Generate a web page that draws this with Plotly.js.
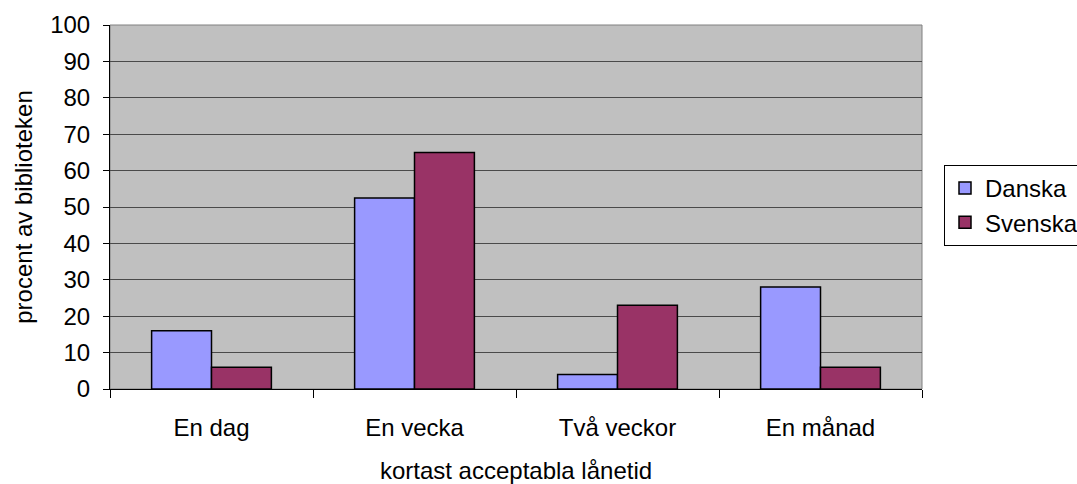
<!DOCTYPE html>
<html>
<head>
<meta charset="utf-8">
<script src="https://cdn.plot.ly/plotly-3.0.1.min.js"></script>
<style>html,body{margin:0;padding:0;background:#fff;}#chart{width:1077px;height:484px;}</style>
</head>
<body>
<div id="chart"></div>
<script>
const categories = ["En dag", "En vecka", "Två veckor", "En månad"];
const danska = [16, 52.5, 4, 28];
const svenska = [6, 65, 23, 6];
const seriesNames = ["Danska", "Svenska"];
const yTicks = [0, 10, 20, 30, 40, 50, 60, 70, 80, 90, 100];

const FONT = "Liberation Sans, Arial, sans-serif";
const FS = 24;
const traces = [
  {type: "bar", name: seriesNames[0], x: categories, y: danska, legendgroup: "a",
   marker: {color: "#9999FF", line: {color: "#000000", width: 1.5}}},
  {type: "bar", name: seriesNames[1], x: categories, y: svenska, legendgroup: "b",
   marker: {color: "#993366", line: {color: "#000000", width: 1.5}}}
];
const layout = {
  width: 1077, height: 484,
  margin: {l: 110, r: 155, t: 25, b: 95},
  paper_bgcolor: "#ffffff",
  plot_bgcolor: "#C0C0C0",
  font: {family: FONT, size: FS, color: "#000"},
  barmode: "group", bargap: 0.41, bargroupgap: 0,
  showlegend: true,
  legend: {xref: "container", yref: "container", x: 944 / 1077, y: 1 - 165 / 484,
           xanchor: "left", yanchor: "top",
           bordercolor: "#000", borderwidth: 1, bgcolor: "#fff",
           font: {family: FONT, size: FS}, tracegroupgap: 21, traceorder: "normal"},
  xaxis: {
    type: "category", tickson: "boundaries", ticks: "outside", ticklen: 8,
    tickcolor: "#000", showline: true, linecolor: "#000", linewidth: 1,
    showgrid: false, zeroline: false, ticklabelstandoff: 17,
    tickfont: {family: FONT, size: FS},
    title: {text: "kortast acceptabla lånetid", font: {family: FONT, size: FS}, standoff: 22}
  },
  yaxis: {
    range: [0, 100], tickvals: yTicks, ticks: "outside", ticklen: 6, tickcolor: "#000",
    showline: true, linecolor: "#000", linewidth: 1, ticklabelstandoff: 8,
    showgrid: true, gridcolor: "#4a4a4a", gridwidth: 1, zeroline: false,
    tickfont: {family: FONT, size: FS},
    title: {text: "procent av biblioteken", font: {family: FONT, size: FS}, standoff: 10}
  },
  shapes: [{type: "rect", xref: "paper", yref: "paper", x0: 0, x1: 1, y0: 0, y1: 1,
            line: {color: "#808080", width: 1}, fillcolor: "rgba(0,0,0,0)", layer: "below"}]
};
Plotly.newPlot("chart", traces, layout, {displayModeBar: false, staticPlot: true});
</script>
</body>
</html>
